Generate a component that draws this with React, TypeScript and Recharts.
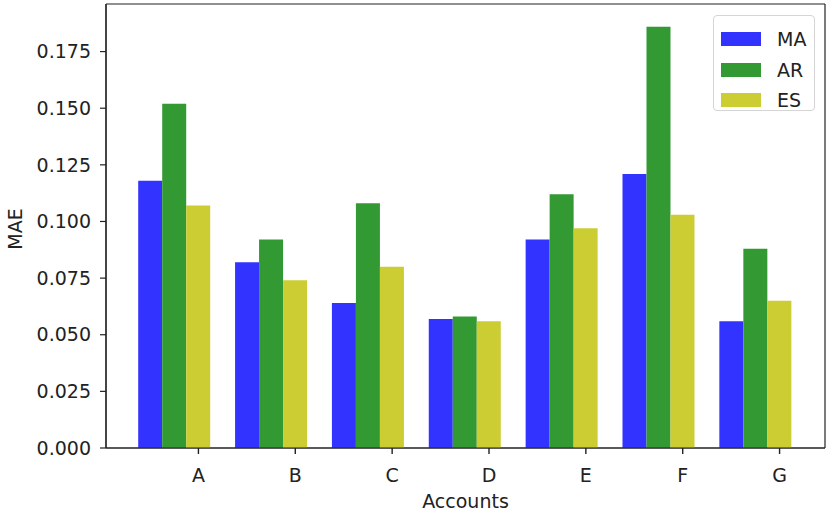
import React from 'react';
import { Bar, BarChart, CartesianGrid, Legend, XAxis, YAxis } from 'recharts';

const accounts = ['A', 'B', 'C', 'D', 'E', 'F', 'G'];
const maValues = [0.118, 0.082, 0.064, 0.057, 0.092, 0.121, 0.056];
const arValues = [0.152, 0.092, 0.108, 0.058, 0.112, 0.186, 0.088];
const esValues = [0.107, 0.074, 0.080, 0.056, 0.097, 0.103, 0.065];
const yTicks = [0, 0.025, 0.05, 0.075, 0.1, 0.125, 0.15, 0.175];

const series = [
  { key: 'MA', color: '#3333ff' },
  { key: 'AR', color: '#339933' },
  { key: 'ES', color: '#cccc33' },
];

const data = accounts.map((account, i) => ({
  account,
  MA: maValues[i],
  AR: arValues[i],
  ES: esValues[i],
}));

const INK = '#222';
const FONT = 19;
// matplotlib puts the account tick one bar to the right of the group centre
const TICK_SHIFT = 24;

function AccountTick(props: any) {
  const { x, y, payload } = props;
  const cx = Number(x) + TICK_SHIFT;
  const top = Number(y);
  return (
    <g>
      <rect x={cx - 0.7} y={top} width={1.4} height={6} fill={INK} stroke="none" />
      <text x={cx} y={top + 34} textAnchor="middle" fontSize={FONT} fill={INK} stroke="none">
        {payload.value}
      </text>
    </g>
  );
}

function LegendBox() {
  return (
    <div
      style={{
        boxSizing: 'border-box',
        width: 102,
        height: 96,
        border: '1px solid #d5d5d5',
        borderRadius: 4,
        background: 'rgba(255,255,255,0.8)',
        padding: '8px 0 0 7px',
      }}
    >
      {series.map((s) => (
        <div key={s.key} style={{ display: 'flex', alignItems: 'center', height: 30.5 }}>
          <div style={{ width: 40, height: 14, background: s.color }} />
          <span style={{ marginLeft: 16, fontSize: FONT, color: INK, lineHeight: '20px' }}>
            {s.key}
          </span>
        </div>
      ))}
    </div>
  );
}

export default function App() {
  return (
    <div
      style={{
        position: 'absolute',
        left: 0,
        top: 0,
        width: 831,
        height: 513,
        background: '#fff',
        fontFamily: '"DejaVu Sans", sans-serif',
      }}
    >
      <BarChart
        width={831}
        height={513}
        data={data}
        margin={{ top: 4, right: 6, bottom: 0, left: 0 }}
        barCategoryGap="12.6%"
        barGap={0}
      >
        {/* frame round the plot area, like matplotlib's spines */}
        <CartesianGrid
          stroke={INK}
          strokeWidth={1.2}
          horizontalCoordinatesGenerator={({ offset }: any) => [offset.top, offset.top + offset.height]}
          verticalCoordinatesGenerator={({ offset }: any) => [offset.left, offset.left + offset.width]}
        />
        <XAxis
          dataKey="account"
          height={65}
          padding={{ left: 20, right: 21 }}
          tickSize={0}
          tickMargin={0}
          tickLine={false}
          tick={<AccountTick />}
          axisLine={{ stroke: INK, strokeWidth: 1.2 }}
          label={{
            value: 'Accounts',
            position: 'insideBottom',
            offset: 5,
            fontSize: FONT,
            fill: INK,
          }}
        />
        <YAxis
          width={106}
          type="number"
          domain={[0, 0.196]}
          ticks={yTicks}
          interval={0}
          tickFormatter={(v: number) => v.toFixed(3)}
          tickSize={6}
          tickMargin={9}
          tick={{ fontSize: FONT, fill: INK }}
          tickLine={{ stroke: INK, strokeWidth: 1.2 }}
          axisLine={{ stroke: INK, strokeWidth: 1.2 }}
          label={{
            content: () => (
              <text
                x={15}
                y={229}
                transform="rotate(-90 15 229)"
                textAnchor="middle"
                dominantBaseline="central"
                fontSize={FONT}
                fill={INK}
              >
                MAE
              </text>
            ),
          }}
        />
        <Legend
          layout="vertical"
          align="center"
          verticalAlign="middle"
          content={() => <LegendBox />}
          wrapperStyle={{ position: 'absolute', left: 713, top: 15, width: 102, height: 96 }}
        />
        {series.map((s) => (
          <Bar key={s.key} dataKey={s.key} fill={s.color} isAnimationActive={false} />
        ))}
      </BarChart>
    </div>
  );
}
